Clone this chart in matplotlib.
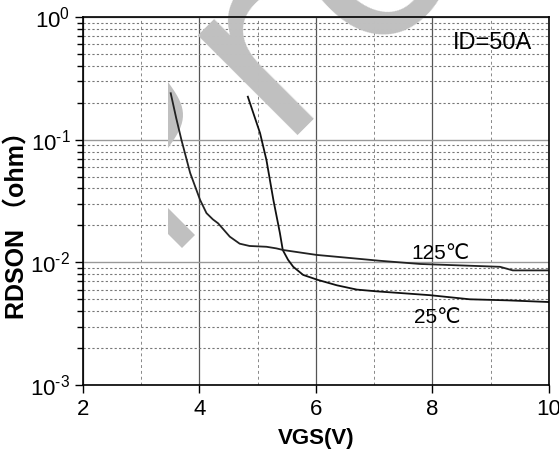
import numpy as np
import matplotlib.pyplot as plt
from matplotlib.patches import Polygon
from matplotlib.ticker import LogLocator, MultipleLocator, NullFormatter, FuncFormatter

plt.rcParams['font.family'] = ['Liberation Sans', 'DejaVu Sans']
plt.rcParams['mathtext.default'] = 'regular'

# 25 C curve (VGS in V, RDSON in ohm)
vgs_25 = [4.83, 5.04, 5.15, 5.27, 5.38, 5.43, 5.52, 5.61, 5.78, 6.03, 6.36, 6.70,
          7.05, 7.50, 7.96, 8.64, 9.30, 10.0]
rds_25 = [0.224, 0.113, 0.068, 0.032, 0.0174, 0.0126, 0.0105, 0.0092, 0.0079, 0.0072,
          0.0065, 0.0060, 0.0058, 0.0056, 0.0054, 0.0050, 0.0049, 0.00475]

# 125 C curve
vgs_125 = [3.506, 3.60, 3.69, 3.84, 4.01, 4.12, 4.23, 4.32, 4.52, 4.69, 4.86, 5.15,
           5.32, 5.44, 6.01, 7.10, 7.79, 9.16, 9.38, 9.98]
rds_125 = [0.239, 0.150, 0.0995, 0.0535, 0.0323, 0.0252, 0.0224, 0.0208, 0.0162,
           0.0142, 0.0136, 0.0134, 0.0130, 0.0126, 0.0115, 0.0103, 0.0097, 0.0092,
           0.0086, 0.0086]

fig = plt.figure(figsize=(5.59, 4.53), dpi=100)
ax = fig.add_axes([0.1485, 0.150, 0.8335, 0.8125])

ax.plot(vgs_25, rds_25, color='#111111', lw=1.3, zorder=3)
ax.plot(vgs_125, rds_125, color='#222222', lw=1.3, zorder=3)

ax.set_yscale('log')
ax.set_xlim(2, 10)
ax.set_ylim(1e-3, 1)
ax.xaxis.set_major_locator(MultipleLocator(2))
ax.xaxis.set_minor_locator(MultipleLocator(1))
ax.yaxis.set_major_locator(LogLocator(base=10, numticks=10))
ax.yaxis.set_minor_locator(LogLocator(base=10, subs=np.arange(2, 10), numticks=10))
ax.yaxis.set_minor_formatter(NullFormatter())
# short hyphen in the exponent, like the original
ax.yaxis.set_major_formatter(FuncFormatter(
    lambda v, p: '$10^{%s}$' % str(int(round(np.log10(v)))).replace('-', '\u2010')))

ax.set_axisbelow(True)
ax.grid(which='major', axis='y', color='#999999', ls='-', lw=1.0)
ax.grid(which='major', axis='x', color='#555555', ls='-', lw=0.9)
ax.grid(which='minor', axis='y', color='#777777', ls=(0, (2, 2)), lw=0.8)
ax.grid(which='minor', axis='x', color='#888888', ls=(0, (3, 3)), lw=0.7)

ax.tick_params(which='major', direction='out', length=6, width=1, labelsize=16,
               colors='black')
ax.tick_params(which='major', axis='y', pad=3)
ax.tick_params(which='major', axis='x', pad=4)
ax.tick_params(which='minor', axis='y', direction='out', length=4, width=1)
ax.tick_params(which='minor', axis='x', length=0)
for s in ax.spines.values():
    s.set_linewidth(1.2)
    s.set_zorder(4)
# keep the last x label ("10") inside the picture
ax.xaxis.get_major_ticks()[-1].label1.set_horizontalalignment('right')

ax.set_xlabel('VGS(V)', fontsize=16, fontweight='bold', labelpad=6)
ax.set_ylabel('RDSON \uff08ohm\uff09', fontsize=18, fontweight='bold',
              family=['Liberation Sans', 'Noto Sans CJK SC'])
ax.yaxis.set_label_coords(-0.114, 0.45)

ax.text(0.878, 0.928, 'ID=50A', transform=ax.transAxes, fontsize=17,
        ha='center', va='center')
ax.text(8.13, 0.0117, '125\u2103', fontsize=15, ha='center', va='center')
ax.text(8.08, 0.00352, '25\u2103', fontsize=15, ha='center', va='center')

# light gray watermark pieces
wm = '#c0c0c0'
ax.text(0.491, 0.703, 'r', transform=fig.transFigure, rotation=45,
        rotation_mode='anchor', ha='left', va='baseline', fontsize=184,
        color=wm, family='DejaVu Sans', zorder=1.5, clip_on=False)
ax.text(0.653, 0.874, 'o', transform=fig.transFigure, rotation=45,
        rotation_mode='anchor', ha='left', va='baseline', fontsize=184,
        color=wm, family='DejaVu Sans', zorder=1.5, clip_on=False)
W, H = 559.0, 453.0
tri = [(168, 208), (195, 235), (182, 248), (168, 234)]
t = np.linspace(0, 1, 20)
cres = [(168 + 15 * np.sin(np.pi * k), 82 + 66 * k) for k in t]
for shape in (tri, cres):
    pts = [(px / W, 1 - py / H) for px, py in shape]
    ax.add_patch(Polygon(pts, closed=True, transform=fig.transFigure,
                         facecolor=wm, edgecolor='none', zorder=1.5, clip_on=False))

plt.savefig('out.png', dpi=100)
